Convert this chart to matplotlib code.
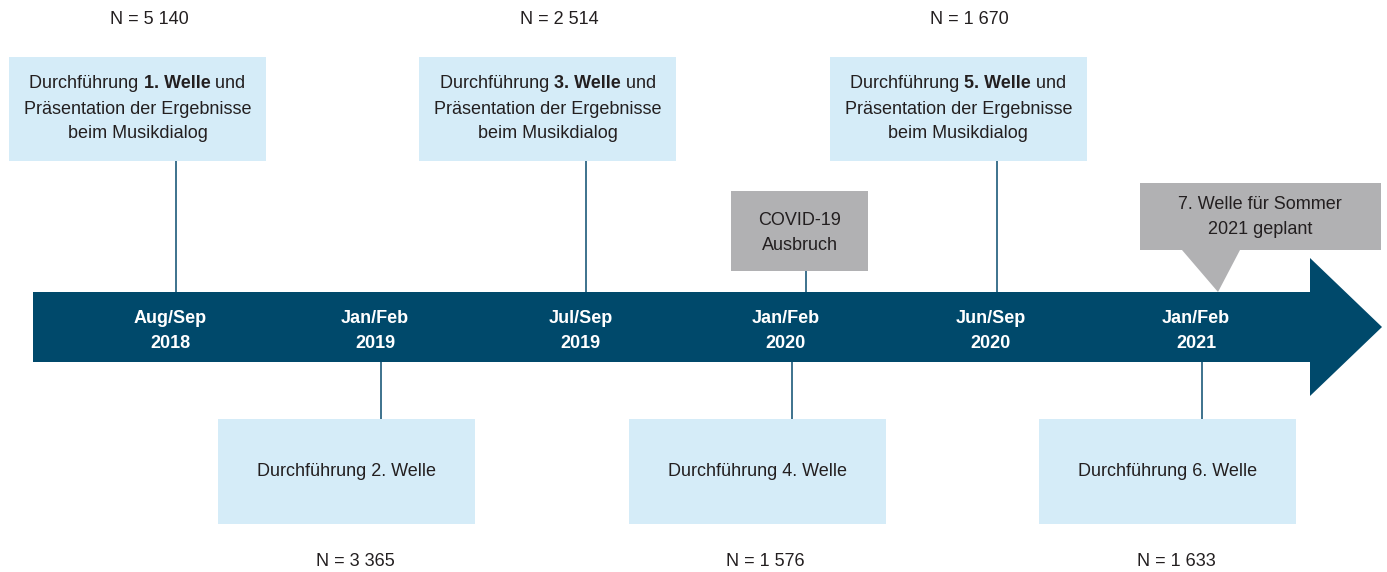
import matplotlib.pyplot as plt
from matplotlib.patches import Rectangle, Polygon
from matplotlib import font_manager

# data
termine = ["Aug/Sep\n2018", "Jan/Feb\n2019", "Jul/Sep\n2019",
           "Jan/Feb\n2020", "Jun/Sep\n2020", "Jan/Feb\n2021"]
wellen = ["1. Welle", "2. Welle", "3. Welle", "4. Welle", "5. Welle", "6. Welle"]
stichprobe = ["5 140", "3 365", "2 514", "1 576", "1 670", "1 633"]
covid_text = "COVID-19\nAusbruch"
plan_text = "7. Welle für Sommer\n2021 geplant"

fams = [f.name for f in font_manager.fontManager.ttflist]
if "Liberation Sans Narrow" in fams:
    plt.rcParams["font.family"] = ["Liberation Sans Narrow", "DejaVu Sans"]
else:
    plt.rcParams["font.family"] = ["Liberation Sans", "DejaVu Sans"]

dunkel = "#00496b"
hell = "#d5ecf8"
grau = "#b1b1b3"
linie = "#1d5a7a"
txt = "#231f20"
fs = 13

fig = plt.figure(figsize=(13.87, 5.72), dpi=100)
ax = fig.add_axes([0, 0, 1, 1])
ax.set_xlim(0, 1387)
ax.set_ylim(572, 0)
ax.axis("off")

# arrow
ax.add_patch(Polygon([(33, 292), (1310, 292), (1310, 258), (1382, 327),
                      (1310, 396), (1310, 362), (33, 362)],
                     closed=True, facecolor=dunkel, edgecolor="none", zorder=2))

x0, step = 176, 205.2
box_w, box_h = 257, 105
renderer = fig.canvas.get_renderer()


def mixed_line(xc, y, parts):
    objs = []
    for s, w in parts:
        objs.append(ax.text(0, y, s, fontsize=fs, fontweight=w, color=txt,
                            ha="left", va="center", zorder=4))
    widths = [o.get_window_extent(renderer).width for o in objs]
    x = xc - sum(widths) / 2
    for o, w in zip(objs, widths):
        o.set_x(x)
        x += w


for i, (t, w, n) in enumerate(zip(termine, wellen, stichprobe)):
    x = x0 + i * step
    ax.text(x - 6, 331, t, fontsize=fs, fontweight="bold", color="white",
            ha="center", va="center", linespacing=1.65, zorder=4)
    if i % 2 == 0:
        bx = x - 167
        ax.add_patch(Rectangle((bx, 57), box_w, 104, facecolor=hell,
                               edgecolor="none", zorder=3))
        ax.plot([x, x], [161, 292], color=linie, lw=1.2, zorder=1)
        xc = bx + box_w / 2
        mixed_line(xc, 84, [("Durchführung ", "normal"), (w, "bold"), (" und", "normal")])
        ax.text(xc, 109, "Präsentation der Ergebnisse", fontsize=fs, color=txt,
                ha="center", va="center", zorder=4)
        ax.text(xc, 134, "beim Musikdialog", fontsize=fs, color=txt,
                ha="center", va="center", zorder=4)
        ax.text(bx + 140, 20, "N = " + n, fontsize=fs, color=txt,
                ha="center", va="center")
    else:
        bx = x - 163
        ax.add_patch(Rectangle((bx, 419), box_w, box_h, facecolor=hell,
                               edgecolor="none", zorder=3))
        ax.plot([x, x], [362, 419], color=linie, lw=1.2, zorder=1)
        ax.text(bx + box_w / 2, 472, "Durchführung " + w, fontsize=fs, color=txt,
                ha="center", va="center", zorder=4)
        ax.text(bx + 137, 562, "N = " + n, fontsize=fs, color=txt,
                ha="center", va="center")

# COVID box
ax.add_patch(Rectangle((731, 191), 137, 80, facecolor=grau, edgecolor="none", zorder=3))
ax.plot([806, 806], [271, 292], color=linie, lw=1.2, zorder=1)
ax.text(799.5, 233, covid_text, fontsize=fs, color=txt, ha="center", va="center",
        linespacing=1.65, zorder=4)

# planned wave callout
ax.add_patch(Polygon([(1140, 183), (1381, 183), (1381, 250), (1240, 250),
                      (1218, 292), (1182, 250), (1140, 250)],
                     closed=True, facecolor=grau, edgecolor="none", zorder=3))
ax.text(1260, 217, plan_text, fontsize=fs, color=txt, ha="center", va="center",
        linespacing=1.65, zorder=4)

fig.savefig("out.png", dpi=100)
